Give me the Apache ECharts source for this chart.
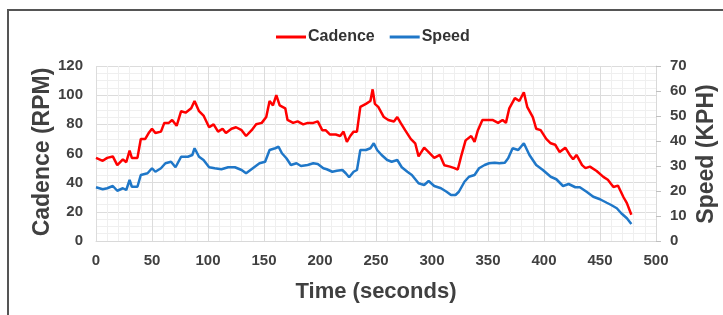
<!DOCTYPE html>
<html>
<head>
<meta charset="utf-8">
<script src="https://cdn.jsdelivr.net/npm/echarts@6/dist/echarts.min.js"></script>
<style>
  html, body { margin: 0; padding: 0; background: #fff; }
  #chart { width: 723px; height: 315px; }
</style>
</head>
<body>
<div id="chart"></div>
<script>
// time in seconds
const cadenceTime = [0, 6, 10, 15, 19, 24, 27, 30, 32, 37, 40, 44, 47, 50, 53, 58, 61, 65, 68, 72, 76, 80, 85, 88, 92, 96, 101,
  105, 109, 113, 116, 121, 125, 130, 134, 139, 143, 148, 152, 155, 158, 161, 164, 169, 171, 176, 180, 185, 189, 194, 198, 202,
  205, 209, 214, 218, 221, 224, 227, 230, 233, 236, 241, 245, 247, 249, 252, 257, 261, 266, 269, 272, 276, 281, 285, 288, 293, 297, 302,
  307, 311, 316, 320, 323, 326, 330, 335, 338, 341, 345, 350, 354, 359, 363, 366, 369, 374, 378, 382, 385, 390, 393, 397, 402, 406,
  410, 414, 419, 423, 426, 429, 434, 437, 441, 447, 453, 457, 462, 466, 471, 474, 478];
const cadence = [57, 55, 57, 58, 52, 56, 54, 62, 57, 57, 70, 70, 74, 77, 74, 75, 81, 81, 83, 79, 89, 88, 91, 96, 89, 86, 78,
  80, 75, 77, 74, 77, 78, 76, 72, 76, 80, 81, 85, 96, 93, 100, 93, 91, 83, 81, 82, 80, 81, 81, 82, 76,
  76, 73, 73, 72, 75, 68, 72, 75, 75, 92, 94, 96, 104, 94, 92, 85, 83, 82, 85, 81, 76, 70, 67, 58, 64, 61, 57,
  59, 52, 51, 50, 49, 58, 69, 72, 68, 76, 83, 83, 83, 81, 83, 81, 91, 98, 96, 102, 92, 85, 77, 76, 70, 67,
  66, 61, 64, 59, 56, 59, 52, 50, 51, 48, 44, 42, 37, 38, 30, 26, 18];

const speedTime = [0, 6, 10, 15, 19, 24, 27, 30, 32, 37, 40, 46, 50, 53, 58, 62, 67, 71, 76, 82, 86, 88, 92, 96, 101,
  106, 112, 118, 124, 130, 134, 140, 146, 151, 155, 160, 163, 166, 170, 174, 179, 183, 189, 194, 198, 203,
  206, 211, 215, 220, 223, 226, 230, 233, 236, 241, 245, 248, 251, 255, 260, 264, 269, 273, 278, 282, 288, 293, 297, 302,
  308, 313, 317, 321, 324, 329, 333, 338, 342, 347, 351, 356, 360, 365, 368, 372, 377, 382, 387, 393, 399, 406,
  411, 417, 422, 428, 432, 438, 444, 450, 456, 460, 465, 469, 474, 478];
const speed = [21.5, 20.7, 21.1, 22, 20.1, 21.1, 20.4, 24.4, 21.7, 21.7, 26.4, 27.1, 29.1, 27.7, 29.1, 31.1, 31.7, 29.5, 33.7, 33.7, 34.4, 37.1, 33.7, 32.4, 29.5,
  29.1, 28.7, 29.5, 29.5, 28.4, 27.1, 29.1, 31.1, 31.7, 36.4, 37.1, 37.7, 35.1, 33.1, 30.4, 31.1, 30, 30.4, 31.1, 30.8, 29.1,
  28.7, 27.7, 28.1, 28.4, 27.1, 25.5, 27.7, 28.4, 36.4, 36.4, 37.1, 39.1, 36.4, 34.4, 32.4, 31.7, 32.4, 29.5, 27.7, 26.4, 23.1, 22.4, 24, 22,
  21.1, 19.7, 18.4, 18.4, 19.7, 23.7, 25.7, 26.4, 29.1, 30.4, 31.1, 31.3, 31.1, 31.3, 33.1, 37.1, 36.4, 39.1, 34.4, 30.4, 28.4, 25.7,
  24.7, 22, 22.8, 21.5, 21.5, 19.7, 17.7, 16.7, 15.3, 14.4, 13.1, 11.1, 9.1, 6.8];

const chart = echarts.init(document.getElementById("chart"));

const tickFont = { fontFamily: "Liberation Sans", fontSize: 15, fontWeight: "bold", color: "#404040" };
const titleFont = { fontFamily: "Liberation Sans", fontWeight: "bold", color: "#404040" };

// rotated axis titles, placed by hand
function yTitle(text, x, y) {
  return {
    type: "text",
    x: x,
    y: y,
    rotation: Math.PI / 2,
    style: Object.assign({ text: text, fontSize: 23, align: "center", verticalAlign: "middle", fill: "#404040" }, titleFont),
  };
}

const option = {
  animation: false,
  graphic: [
    {
      type: "rect",
      shape: { x: 8, y: 10, width: 900, height: 400 },
      style: { fill: "none", stroke: "#555", lineWidth: 2 },
    },
    yTitle("Cadence (RPM)", 43, 152),
    yTitle("Speed (KPH)", 707, 154),
  ],
  legend: {
    top: 24,
    left: 271,
    icon: "rect",
    itemWidth: 30,
    itemHeight: 3,
    itemGap: 15,
    textStyle: { fontFamily: "Liberation Sans", fontSize: 16, fontWeight: "bold", color: "#333", padding: [0, 0, 0, -3] },
    data: ["Cadence", "Speed"],
  },
  grid: { left: 96, right: 67, top: 66, bottom: 74, outerBoundsMode: "none" },
  xAxis: {
    type: "value",
    min: 0,
    max: 500,
    interval: 50,
    name: "Time (seconds)",
    nameLocation: "middle",
    nameGap: 40,
    nameTextStyle: Object.assign({ fontSize: 22 }, titleFont),
    axisLine: { lineStyle: { color: "#d9d9d9" } },
    axisTick: { show: false },
    axisLabel: Object.assign({ margin: 12 }, tickFont),
    splitLine: { lineStyle: { color: "#dcdcdc" } },
    minorTick: { show: false, splitNumber: 5 },
    minorSplitLine: { show: true, lineStyle: { color: "#efefef" } },
  },
  yAxis: [
    {
      type: "value",
      min: 0,
      max: 120,
      interval: 20,
      axisLine: { show: false },
      axisTick: { show: false },
      axisLabel: Object.assign({ margin: 13 }, tickFont),
      splitLine: { lineStyle: { color: "#dcdcdc" } },
      minorTick: { show: false, splitNumber: 4 },
      minorSplitLine: { show: true, lineStyle: { color: "#efefef" } },
    },
    {
      type: "value",
      min: 0,
      max: 70,
      interval: 10,
      axisLine: { show: true, lineStyle: { color: "#d9d9d9" } },
      axisTick: { show: true, length: 5, lineStyle: { color: "#bfbfbf" } },
      axisLabel: Object.assign({ margin: 14 }, tickFont),
      splitLine: { show: false },
    },
  ],
  series: [
    {
      name: "Cadence",
      type: "line",
      yAxisIndex: 0,
      showSymbol: false,
      color: "#ff0000",
      lineStyle: { width: 2.5, color: "#ff0000" },
      data: cadenceTime.map((t, i) => [t, cadence[i]]),
    },
    {
      name: "Speed",
      type: "line",
      yAxisIndex: 1,
      showSymbol: false,
      color: "#1f77c8",
      lineStyle: { width: 2.5, color: "#1f77c8" },
      data: speedTime.map((t, i) => [t, speed[i]]),
    },
  ],
};

chart.setOption(option);
</script>
</body>
</html>
